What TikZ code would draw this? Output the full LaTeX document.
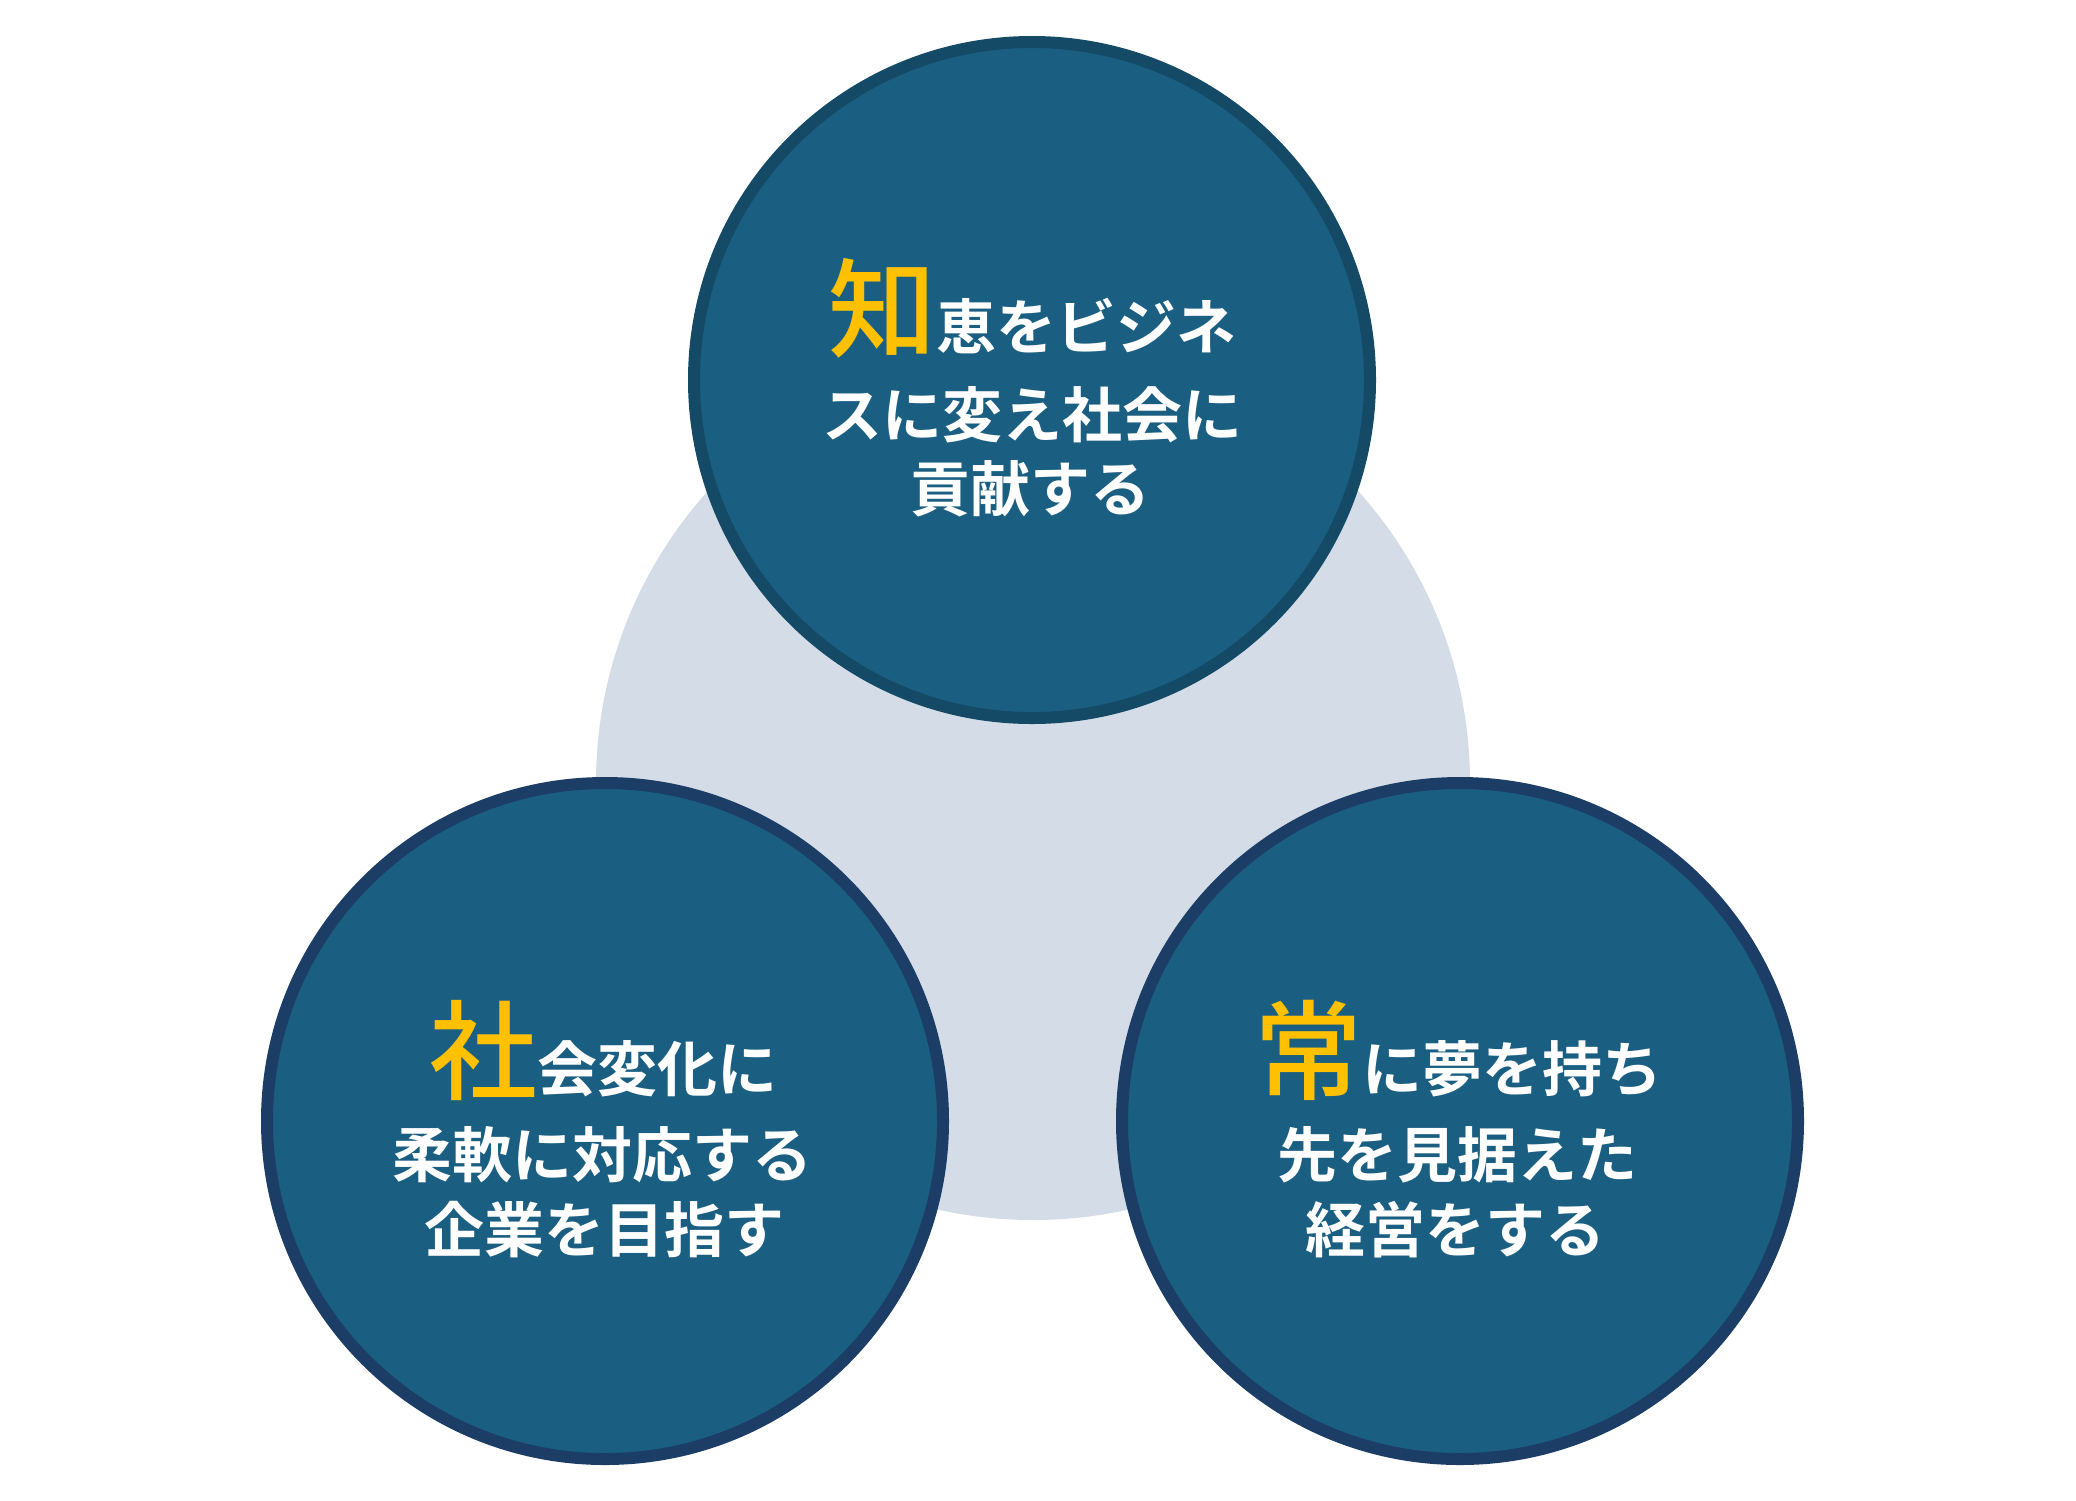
\documentclass[tikz,border=0pt]{standalone}
\usepackage{fontspec}
\setmainfont{Noto Sans CJK JP}[BoldFont={Noto Sans CJK JP Bold}]
\newfontfamily\srednij{Noto Sans CJK JP Medium}
\usetikzlibrary{calc}
\definecolor{fon}{HTML}{D4DCE8}
\definecolor{krug}{HTML}{1A5F82}
\definecolor{obvod}{HTML}{1B3D66}
\definecolor{obvodv}{HTML}{144A66}
\definecolor{zhelt}{HTML}{FFC000}
\tikzstyle{every node}=[font=\bfseries]
\tikzstyle{krug}=[circle,fill=krug,draw=obvod,line width=6pt,minimum size=338pt,inner sep=0pt]
\tikzstyle{stroka}=[anchor=base,text=white,inner sep=0pt,font=\fontsize{30}{36}\selectfont\bfseries]
\newcommand{\bukva}[1]{{\color{zhelt}\srednij\mdseries\fontsize{54}{60}\selectfont #1}}

\begin{document}
\begin{tikzpicture}[x=0.5pt,y=-0.5pt]
\fill[white] (0,0) rectangle (2076,1500);
\useasboundingbox (0,0) rectangle (2076,1500);
%фон
\node[circle,fill=fon,minimum size=437pt,inner sep=0pt] (fon) at (1033,783) {};
%круги
\node[krug] (levo) at (605,1121) {};
\node[krug] (pravo) at (1460,1121) {};
\node[krug,draw=obvodv] (verh) at (1032,380) {};
%верх
\node[stroka] (v1) at (1032,349) {\bukva{知}恵をビジネ};
\node[stroka] (v2) at (1032,437) {スに変え社会に};
\node[stroka] (v3) at (1030,511) {貢献する};
%лево
\node[stroka] (l1) at (603,1091) {\bukva{社}会変化に};
\node[stroka] (l2) at (602,1177) {柔軟に対応する};
\node[stroka] (l3) at (604,1252) {企業を目指す};
%право
\node[stroka] (p1) at (1458,1091) {\bukva{常}に夢を持ち};
\node[stroka] (p2) at (1457,1177) {先を見据えた};
\node[stroka] (p3) at (1455,1252) {経営をする};
\end{tikzpicture}
\end{document}
